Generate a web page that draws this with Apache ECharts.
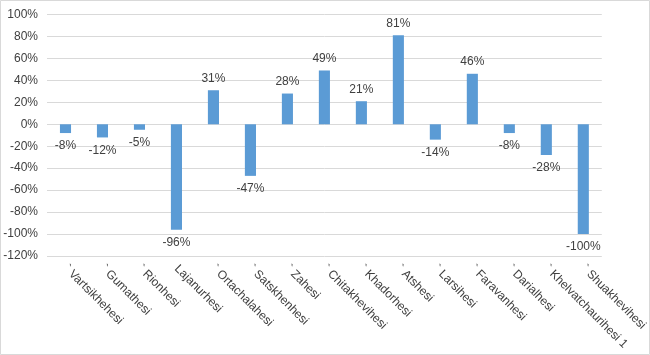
<!DOCTYPE html>
<html><head><meta charset="utf-8">
<script src="https://cdn.jsdelivr.net/npm/echarts@6/dist/echarts.min.js"></script>
<style>html,body{margin:0;padding:0;background:#fff}#c{width:650px;height:355px}</style>
</head><body><div id="c"></div>
<script>
const categories = ["` Vartsikhehesi","` Gumathesi","` Rionhesi","Lajanurhesi","` Ortachalahesi","` Satskhenhesi","` Zahesi","` Chitakhevihesi","` Khadorhesi","` Atshesi","` Larsihesi","` Faravanhesi","` Darialhesi","` Khelvatchaurihesi 1","` Shuakhevihesi"];
const values = [-8,-12,-5,-96,31,-47,28,49,21,81,-14,46,-8,-28,-100];
const yMin = -120, yMax = 100, yStep = 20;

const chart = echarts.init(document.getElementById('c'), null, {renderer:'canvas'});
const font = 'Liberation Sans, Arial, sans-serif';
chart.setOption({
  animation:false,
  backgroundColor:'#fff',
  graphic:[{type:'rect',shape:{x:0.5,y:0.5,width:649,height:354},style:{fill:'none',stroke:'#d9d9d9',lineWidth:1},silent:true}],
  grid:{left:47,right:47,top:14.5,bottom:99,containLabel:false},
  xAxis:{type:'category',data:categories,
    axisLine:{show:false},axisTick:{show:false},
    axisLabel:{interval:0,rotate:-45,margin:11,fontSize:12,fontFamily:font,color:'#404040'}},
  yAxis:{type:'value',min:yMin,max:yMax,interval:yStep,
    axisLine:{show:false},axisTick:{show:false},
    splitLine:{lineStyle:{color:'#d9d9d9',width:1}},
    axisLabel:{formatter:'{value}%',fontSize:12,fontFamily:font,color:'#404040',margin:9}},
  series:[{type:'bar',data:values.map(v=>({value:v,label:{position:v>=0?'top':'bottom',distance:v>=0?6:7}})),
    barWidth:'30%',itemStyle:{color:'#5b9bd5'},
    label:{show:true,formatter:'{c}%',fontSize:12,fontFamily:font,color:'#404040'}}]
});
</script></body></html>
